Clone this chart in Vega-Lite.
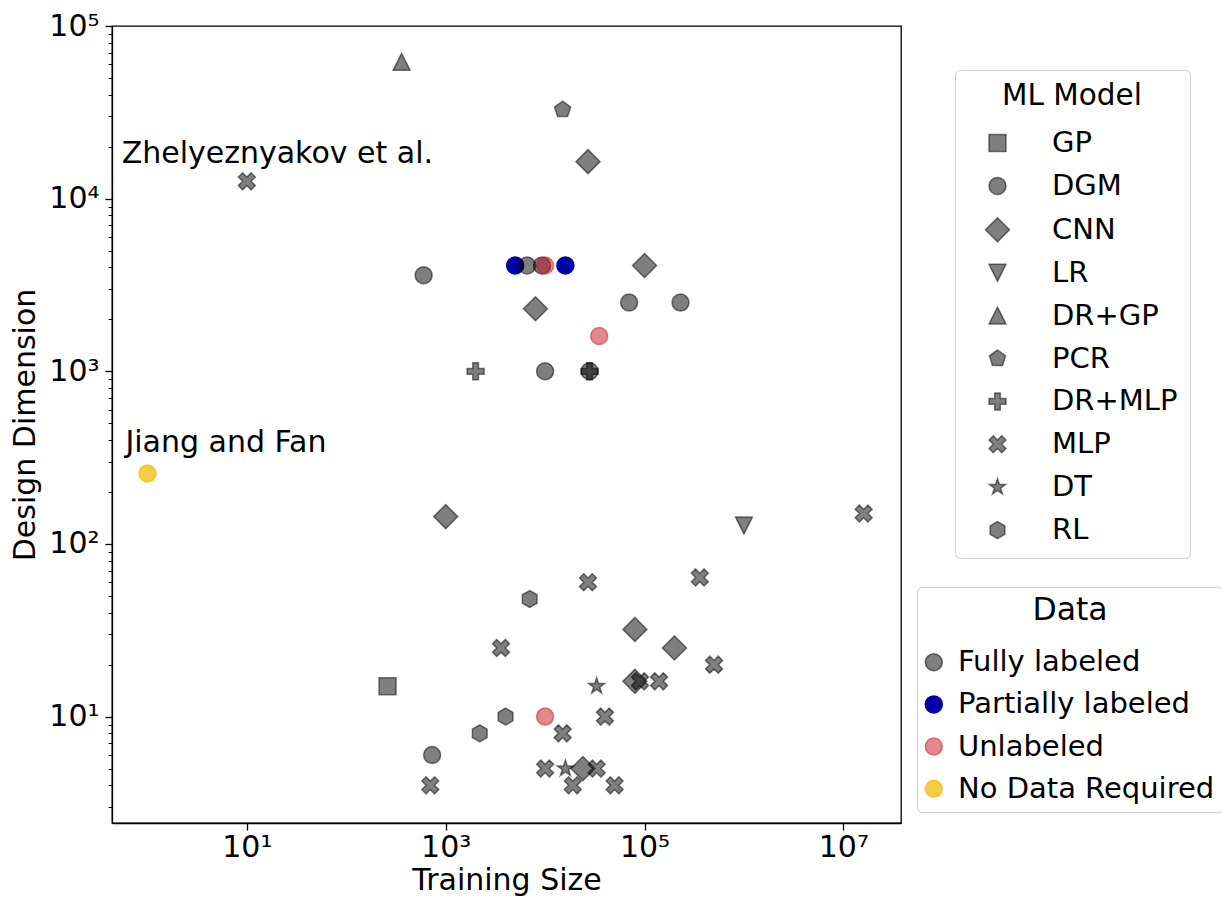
{
  "$schema": "https://vega.github.io/schema/vega-lite/v6.json",
  "width": 789,
  "height": 797,
  "autosize": "none",
  "padding": {"left": 112, "top": 26, "right": 321, "bottom": 76},
  "background": "white",
  "config": {
    "font": "DejaVu Sans",
    "view": {"stroke": "black", "strokeWidth": 1.3},
    "axis": {
      "labelFont": "DejaVu Sans",
      "titleFont": "DejaVu Sans",
      "labelColor": "black",
      "titleColor": "black",
      "titleFontWeight": "normal",
      "domainColor": "black",
      "domainWidth": 1.3,
      "tickColor": "black",
      "tickWidth": 1.3,
      "grid": false,
      "labelFontSize": 30,
      "titleFontSize": 30
    },
    "legend": {
      "labelFont": "DejaVu Sans",
      "titleFont": "DejaVu Sans",
      "labelColor": "black",
      "titleColor": "black",
      "titleFontWeight": "normal",
      "labelFontSize": 29,
      "labelLimit": 400,
      "strokeColor": "#d0d0d0",
      "fillColor": "white",
      "cornerRadius": 5,
      "symbolSize": 289,
      "symbolStrokeWidth": 1.5
    }
  },
  "datasets": {
    "points": [
      {"training_size": 5000, "design_dim": 4096, "model": "DGM", "data": "Partially labeled"},
      {"training_size": 16000, "design_dim": 4096, "model": "DGM", "data": "Partially labeled"},
      {"training_size": 360, "design_dim": 62000, "model": "DR+GP", "data": "Fully labeled"},
      {"training_size": 15000, "design_dim": 32768, "model": "PCR", "data": "Fully labeled"},
      {"training_size": 27000, "design_dim": 16384, "model": "CNN", "data": "Fully labeled"},
      {"training_size": 10, "design_dim": 12600, "model": "MLP", "data": "Fully labeled"},
      {"training_size": 600, "design_dim": 3600, "model": "DGM", "data": "Fully labeled"},
      {"training_size": 6600, "design_dim": 4096, "model": "DGM", "data": "Fully labeled"},
      {"training_size": 9300, "design_dim": 4096, "model": "DGM", "data": "Fully labeled"},
      {"training_size": 100000, "design_dim": 4096, "model": "CNN", "data": "Fully labeled"},
      {"training_size": 8000, "design_dim": 2304, "model": "CNN", "data": "Fully labeled"},
      {"training_size": 70000, "design_dim": 2500, "model": "DGM", "data": "Fully labeled"},
      {"training_size": 230000, "design_dim": 2500, "model": "DGM", "data": "Fully labeled"},
      {"training_size": 2000, "design_dim": 1000, "model": "DR+MLP", "data": "Fully labeled"},
      {"training_size": 10000, "design_dim": 1000, "model": "DGM", "data": "Fully labeled"},
      {"training_size": 28000, "design_dim": 1000, "model": "DGM", "data": "Fully labeled"},
      {"training_size": 28000, "design_dim": 1000, "model": "DR+MLP", "data": "Fully labeled"},
      {"training_size": 1000, "design_dim": 144, "model": "CNN", "data": "Fully labeled"},
      {"training_size": 1000000, "design_dim": 128, "model": "LR", "data": "Fully labeled"},
      {"training_size": 16000000, "design_dim": 150, "model": "MLP", "data": "Fully labeled"},
      {"training_size": 27000, "design_dim": 60, "model": "MLP", "data": "Fully labeled"},
      {"training_size": 360000, "design_dim": 64, "model": "MLP", "data": "Fully labeled"},
      {"training_size": 7000, "design_dim": 48, "model": "RL", "data": "Fully labeled"},
      {"training_size": 80000, "design_dim": 32, "model": "CNN", "data": "Fully labeled"},
      {"training_size": 200000, "design_dim": 25, "model": "CNN", "data": "Fully labeled"},
      {"training_size": 3600, "design_dim": 25, "model": "MLP", "data": "Fully labeled"},
      {"training_size": 500000, "design_dim": 20, "model": "MLP", "data": "Fully labeled"},
      {"training_size": 33000, "design_dim": 15, "model": "DT", "data": "Fully labeled"},
      {"training_size": 80000, "design_dim": 16, "model": "CNN", "data": "Fully labeled"},
      {"training_size": 90000, "design_dim": 16, "model": "MLP", "data": "Fully labeled"},
      {"training_size": 140000, "design_dim": 16, "model": "MLP", "data": "Fully labeled"},
      {"training_size": 260, "design_dim": 15, "model": "GP", "data": "Fully labeled"},
      {"training_size": 4000, "design_dim": 10, "model": "RL", "data": "Fully labeled"},
      {"training_size": 40000, "design_dim": 10, "model": "MLP", "data": "Fully labeled"},
      {"training_size": 2200, "design_dim": 8, "model": "RL", "data": "Fully labeled"},
      {"training_size": 15000, "design_dim": 8, "model": "MLP", "data": "Fully labeled"},
      {"training_size": 730, "design_dim": 6, "model": "DGM", "data": "Fully labeled"},
      {"training_size": 10000, "design_dim": 5, "model": "MLP", "data": "Fully labeled"},
      {"training_size": 16000, "design_dim": 5, "model": "DT", "data": "Fully labeled"},
      {"training_size": 24000, "design_dim": 5, "model": "CNN", "data": "Fully labeled"},
      {"training_size": 33000, "design_dim": 5, "model": "MLP", "data": "Fully labeled"},
      {"training_size": 700, "design_dim": 4, "model": "MLP", "data": "Fully labeled"},
      {"training_size": 19000, "design_dim": 4, "model": "MLP", "data": "Fully labeled"},
      {"training_size": 50000, "design_dim": 4, "model": "MLP", "data": "Fully labeled"},
      {"training_size": 10000, "design_dim": 4096, "model": "DGM", "data": "Unlabeled"},
      {"training_size": 35000, "design_dim": 1600, "model": "DGM", "data": "Unlabeled"},
      {"training_size": 10000, "design_dim": 10, "model": "DGM", "data": "Unlabeled"},
      {"training_size": 1, "design_dim": 256, "model": "DGM", "data": "No Data Required"}
    ],
    "notes": [
      {"training_size": 0.55, "design_dim": 16000, "label": "Zhelyeznyakov et al."},
      {"training_size": 0.6, "design_dim": 340, "label": "Jiang and Fan"}
    ]
  },
  "layer": [
    {
      "data": {"name": "points"},
      "mark": {"type": "point", "filled": true, "opacity": 1, "strokeWidth": 1.5},
      "encoding": {
        "x": {
          "field": "training_size",
          "type": "quantitative",
          "scale": {"type": "log", "domain": [0.44, 38000000], "nice": false, "zero": false},
          "axis": {
            "values": [10, 1000, 100000, 10000000],
            "labelExpr": "datum.value == 10 ? '10¹' : datum.value == 1000 ? '10³' : datum.value == 100000 ? '10⁵' : datum.value == 10000000 ? '10⁷' : ''",
            "tickSize": 7,
            "labelPadding": 2,
            "labelFlush": false,
            "labelOverlap": false,
            "title": "Training Size",
            "titlePadding": 3
          }
        },
        "y": {
          "field": "design_dim",
          "type": "quantitative",
          "scale": {"type": "log", "domain": [2.42, 100000], "nice": false, "zero": false},
          "axis": {
            "orient": "left",
            "values": [10, 100, 1000, 10000, 100000],
            "labelExpr": "datum.value == 10 ? '10¹' : datum.value == 100 ? '10²' : datum.value == 1000 ? '10³' : datum.value == 10000 ? '10⁴' : datum.value == 100000 ? '10⁵' : ''",
            "tickSize": 7,
            "labelPadding": 6,
            "labelFlush": false,
            "labelOverlap": false,
            "title": "Design Dimension",
            "titlePadding": 8
          }
        },
        "shape": {
          "field": "model",
          "type": "nominal",
          "scale": {
            "domain": ["GP", "DGM", "CNN", "LR", "DR+GP", "PCR", "DR+MLP", "MLP", "DT", "RL"],
            "range": [
              "M-1,-1L1,-1L1,1L-1,1Z",
              "circle",
              "M0,-1.414L1.414,0L0,1.414L-1.414,0Z",
              "M-1,-1L1,-1L0,1Z",
              "M0,-1L1,1L-1,1Z",
              "M0,-1L0.951,-0.309L0.588,0.809L-0.588,0.809L-0.951,-0.309Z",
              "M-0.333,-1L0.333,-1L0.333,-0.333L1,-0.333L1,0.333L0.333,0.333L0.333,1L-0.333,1L-0.333,0.333L-1,0.333L-1,-0.333L-0.333,-0.333Z",
              "M-0.5,-1L0,-0.5L0.5,-1L1,-0.5L0.5,0L1,0.5L0.5,1L0,0.5L-0.5,1L-1,0.5L-0.5,0L-1,-0.5Z",
              "M0,-1L0.2245,-0.309L0.951,-0.309L0.363,0.118L0.588,0.809L0,0.382L-0.588,0.809L-0.363,0.118L-0.951,-0.309L-0.2245,-0.309Z",
              "M0,-1L0.866,-0.5L0.866,0.5L0,1L-0.866,0.5L-0.866,-0.5Z"
            ]
          },
          "legend": {
            "title": "ML Model",
            "orient": "none",
            "legendX": 843,
            "legendY": 44,
            "padding": 12,
            "titleFontSize": 29.5,
            "titleAnchor": "middle",
            "titlePadding": 17,
            "symbolOffset": 16,
            "labelOffset": 40,
            "rowPadding": 12.9,
            "symbolFillColor": "rgba(0,0,0,0.5)",
            "symbolStrokeColor": "rgba(0,0,0,0.5)"
          }
        },
        "color": {
          "field": "data",
          "type": "nominal",
          "scale": {
            "domain": ["Fully labeled", "Partially labeled", "Unlabeled", "No Data Required"],
            "range": ["rgba(0,0,0,0.5)", "rgba(0,0,165,1)", "rgba(200,20,30,0.5)", "rgba(245,190,20,0.8)"]
          },
          "legend": {
            "title": "Data",
            "orient": "none",
            "legendX": 805,
            "legendY": 561,
            "padding": 8,
            "titleFontSize": 31.5,
            "titleAnchor": "middle",
            "titlePadding": 21.2,
            "symbolOffset": -5.7,
            "labelOffset": 9.7,
            "rowPadding": 12.2
          }
        },
        "stroke": {
          "field": "data",
          "type": "nominal",
          "scale": {
            "domain": ["Fully labeled", "Partially labeled", "Unlabeled", "No Data Required"],
            "range": ["rgba(0,0,0,0.5)", "rgba(0,0,165,1)", "rgba(200,20,30,0.5)", "rgba(245,190,20,0.8)"]
          },
          "legend": {
            "title": "Data",
            "orient": "none",
            "legendX": 805,
            "legendY": 561,
            "padding": 8,
            "titleFontSize": 31.5,
            "titleAnchor": "middle",
            "titlePadding": 21.2,
            "symbolOffset": -5.7,
            "labelOffset": 9.7,
            "rowPadding": 12.2
          }
        },
        "size": {"value": 289}
      }
    },
    {
      "data": {"name": "notes"},
      "mark": {"type": "text", "align": "left", "baseline": "alphabetic", "font": "DejaVu Sans", "fontSize": 30, "color": "black"},
      "encoding": {
        "x": {
          "field": "training_size",
          "type": "quantitative",
          "scale": {"type": "log", "domain": [0.44, 38000000], "nice": false, "zero": false},
          "axis": {
            "values": [10, 1000, 100000, 10000000],
            "labelExpr": "datum.value == 10 ? '10¹' : datum.value == 1000 ? '10³' : datum.value == 100000 ? '10⁵' : datum.value == 10000000 ? '10⁷' : ''",
            "tickSize": 7,
            "labelPadding": 2,
            "labelFlush": false,
            "labelOverlap": false,
            "title": "Training Size",
            "titlePadding": 3
          }
        },
        "y": {
          "field": "design_dim",
          "type": "quantitative",
          "scale": {"type": "log", "domain": [2.42, 100000], "nice": false, "zero": false},
          "axis": {
            "orient": "left",
            "values": [3, 4, 5, 6, 7, 8, 9, 20, 30, 40, 50, 60, 70, 80, 90, 200, 300, 400, 500, 600, 700, 800, 900, 2000, 3000, 4000, 5000, 6000, 7000, 8000, 9000, 20000, 30000, 40000, 50000, 60000, 70000, 80000, 90000],
            "labels": false,
            "domain": false,
            "tickSize": 4,
            "tickWidth": 1,
            "title": null
          }
        },
        "text": {"field": "label", "type": "nominal"}
      }
    }
  ],
  "resolve": {"axis": {"y": "independent"}}
}
